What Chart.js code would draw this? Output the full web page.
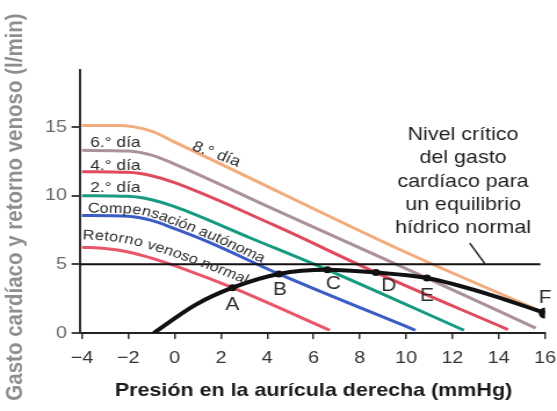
<!DOCTYPE html>
<html lang="es">
<head>
<meta charset="utf-8">
<title>Gasto cardíaco y retorno venoso</title>
<script src="https://cdn.jsdelivr.net/npm/chart.js@4.4.1/dist/chart.umd.min.js"></script>
<style>
  html, body { margin: 0; padding: 0; background: #fff; }
</style>
</head>
<body>
<!-- the scanned figure is a little wider than tall, so the canvas is stretched (inline style so Chart.js keeps it) -->
<canvas id="chart" width="480" height="411" style="display:block;width:557px;height:411px"></canvas>
<script>
// axis ticks
const xTicks = [-4, -2, 0, 2, 4, 6, 8, 10, 12, 14, 16];
const yTicks = [0, 5, 10, 15];

// venous return curves (presión en aurícula derecha -> l/min)
const normalX = [-4, -3, -2, -1, 0.5, 2.5, 6.7];
const normalY = [6.25, 6.15, 5.9, 5.45, 4.6, 3.3, 0.2];
const autoX = [-4, -2, -1, 0, 1.5, 4.5, 10.4];
const autoY = [8.55, 8.5, 8.2, 7.6, 6.6, 4.3, 0.2];
const dia2X = [-4, -2, -1, 0, 3.3, 6.6, 12.5];
const dia2Y = [10.0, 9.95, 9.7, 9.2, 6.9, 4.6, 0.2];
const dia4X = [-4, -2, -1, 0, 4.3, 8.7, 14.4];
const dia4Y = [11.75, 11.7, 11.45, 10.95, 7.85, 4.4, 0.25];
const dia6X = [-4, -2, -1, 0, 4.3, 10.9, 15.6];
const dia6Y = [13.3, 13.25, 12.95, 12.3, 9.0, 4.0, 0.35];
const dia8X = [-4, -2.5, -1, 0, 2, 9.7, 16];
const dia8Y = [15.1, 15.1, 14.7, 13.9, 12.3, 6.1, 1.45];

// cardiac output curve and the equilibrium points on it
const gastoX = [-0.9, 0.9, 2.5, 4.5, 6.6, 8.7, 10.9, 13.6, 16];
const gastoY = [0, 2.05, 3.3, 4.3, 4.6, 4.4, 4.0, 2.8, 1.45];
const puntosNombre = ['A', 'B', 'C', 'D', 'E', 'F'];
const puntosX = [2.5, 4.5, 6.6, 8.7, 10.9, 16];
const puntosY = [3.3, 4.3, 4.6, 4.4, 4.0, 1.45];

// critical level line and the pointer from its label
const criticoX = [-4.1, 15.8];
const criticoY = [5, 5];
const flechaX = [12.75, 13.4];
const flechaY = [6.55, 5.05];

const nivelTexto = ['Nivel crítico', 'del gasto', 'cardíaco para', 'un equilibrio', 'hídrico normal'];
const diaTexto = ['6.° día', '4.° día', '2.° día'];

const FONT = '"Liberation Sans", Arial, Helvetica, sans-serif';

function pts(xs, ys) {
    return xs.map((x, i) => ({ x: x, y: ys[i] }));
}

function curva(xs, ys, color, width, order) {
    return {
        data: pts(xs, ys),
        borderColor: color,
        borderWidth: width,
        pointRadius: 0,
        cubicInterpolationMode: 'monotone',
        fill: false,
        order: order
    };
}

// sample the drawn (bezier) line of a dataset into a polyline
function muestrear(meta) {
    const p = meta.data;
    const out = [];
    for (let i = 0; i < p.length - 1; i++) {
        const a = p[i], b = p[i + 1];
        const c1x = a.cp2x ?? a.x, c1y = a.cp2y ?? a.y;
        const c2x = b.cp1x ?? b.x, c2y = b.cp1y ?? b.y;
        for (let k = 0; k < 12; k++) {
            const t = k / 12, u = 1 - t;
            out.push({
                x: u * u * u * a.x + 3 * u * u * t * c1x + 3 * u * t * t * c2x + t * t * t * b.x,
                y: u * u * u * a.y + 3 * u * u * t * c1y + 3 * u * t * t * c2y + t * t * t * b.y
            });
        }
    }
    const last = p[p.length - 1];
    out.push({ x: last.x, y: last.y });
    return out;
}

// lay text along a polyline, lifted "up" by offset px
function textoEnCurva(ctx, text, line, start, offset) {
    const seg = [];
    let total = 0;
    for (let i = 0; i < line.length - 1; i++) {
        const dx = line[i + 1].x - line[i].x, dy = line[i + 1].y - line[i].y;
        const len = Math.hypot(dx, dy);
        if (len < 1e-6) continue;
        seg.push({ x: line[i].x, y: line[i].y, dx: dx / len, dy: dy / len, len: len, d0: total });
        total += len;
    }
    const pos = (d) => {
        let s = seg[seg.length - 1];
        for (const q of seg) { if (d <= q.d0 + q.len) { s = q; break; } }
        const t = d - s.d0;
        return { x: s.x + s.dx * t, y: s.y + s.dy * t };
    };
    let d = start;
    for (const ch of text) {
        const w = ctx.measureText(ch).width;
        const m = d + w / 2;
        const p = pos(m), p0 = pos(Math.max(0, m - 7)), p1 = pos(m + 7);
        const a = Math.atan2(p1.y - p0.y, p1.x - p0.x);
        ctx.save();
        ctx.translate(p.x + Math.sin(a) * offset, p.y - Math.cos(a) * offset);
        ctx.rotate(a);
        ctx.fillText(ch, -w / 2, 0);
        ctx.restore();
        d += w;
    }
}

const rotulos = {
    id: 'rotulos',
    afterDatasetsDraw(chart) {
        const ctx = chart.ctx;
        const x = chart.scales.x, y = chart.scales.y;
        ctx.save();
        ctx.fillStyle = '#2a2a2a';
        ctx.textBaseline = 'alphabetic';

        // day labels above their curves
        ctx.font = '15px ' + FONT;
        ctx.textAlign = 'left';
        const diaY = [13.55, 11.87, 10.3];
        diaTexto.forEach((t, i) => ctx.fillText(t, x.getPixelForValue(-3.65), y.getPixelForValue(diaY[i])));

        ctx.save();
        ctx.translate(x.getPixelForValue(0.72), y.getPixelForValue(13.35));
        ctx.rotate(23 * Math.PI / 180);
        ctx.fillText('8.° día', 0, 0);
        ctx.restore();

        // curved labels along the two lowest curves
        ctx.font = '14px ' + FONT;
        textoEnCurva(ctx, 'Compensación autónoma', muestrear(chart.getDatasetMeta(3)), 5, 3);
        textoEnCurva(ctx, 'Retorno venoso normal', muestrear(chart.getDatasetMeta(2)), 0, 8);

        // equilibrium point letters
        ctx.font = '18px ' + FONT;
        ctx.textAlign = 'center';
        ctx.textBaseline = 'middle';
        const dx = [0, 1, 5, 11, 0, 0];
        const dy = [17, 16, 14, 13, 18, -15];
        puntosNombre.forEach((n, i) => {
            ctx.fillText(n, x.getPixelForValue(puntosX[i]) + dx[i], y.getPixelForValue(puntosY[i]) + dy[i]);
        });

        // critical level label
        ctx.textBaseline = 'alphabetic';
        ctx.font = '18.5px ' + FONT;
        ctx.fillStyle = '#1e1e1e';
        nivelTexto.forEach((t, i) => ctx.fillText(t, x.getPixelForValue(12.46), y.getPixelForValue(14.06) + i * 23.3));

        // axis titles
        ctx.font = 'bold 18.5px ' + FONT;
        ctx.fillStyle = '#1a1a1a';
        ctx.fillText('Presión en la aurícula derecha (mmHg)', x.getPixelForValue(6.0), 396);

        ctx.save();
        ctx.translate(19, 207);
        ctx.rotate(-Math.PI / 2);
        ctx.font = 'bold 20.5px ' + FONT;
        ctx.fillStyle = '#8e8e8e';
        ctx.fillText('Gasto cardíaco y retorno venoso (l/min)', 0, 0);
        ctx.restore();

        ctx.restore();
    }
};

const chart = new Chart(document.getElementById('chart'), {
    type: 'line',
    data: {
        datasets: [
            // 0: cardiac output curve (on top)
            curva(gastoX, gastoY, '#111', 4, 0),
            // 1: critical level
            { data: pts(criticoX, criticoY), borderColor: '#111', borderWidth: 2, pointRadius: 0, order: 1 },
            curva(normalX, normalY, '#e9566a', 3, 7),
            curva(autoX, autoY, '#3a5cc4', 3, 6),
            curva(dia2X, dia2Y, '#169a80', 3, 5),
            curva(dia4X, dia4Y, '#e04a5e', 3, 4),
            curva(dia6X, dia6Y, '#ab9299', 3, 3),
            curva(dia8X, dia8Y, '#f2ab7c', 3, 2),
            // pointer from the label
            { data: pts(flechaX, flechaY), borderColor: '#222', borderWidth: 1.5, pointRadius: 0, order: 1 },
            // equilibrium points
            {
                data: pts(puntosX, puntosY),
                showLine: false,
                pointRadius: [3.5, 3.5, 3.5, 3.5, 3.5, 5.5],
                pointBackgroundColor: '#111',
                pointBorderWidth: 0,
                order: -1
            }
        ]
    },
    options: {
        responsive: false,
        devicePixelRatio: 1,
        animation: false,
        events: [],
        layout: { padding: { top: 70, right: 10.34, left: 0, bottom: 0 } },
        plugins: { legend: { display: false }, tooltip: { enabled: false } },
        scales: {
            x: {
                type: 'linear',
                min: -4.1,
                max: 16,
                afterBuildTicks: (s) => { s.ticks = xTicks.map(v => ({ value: v })); },
                afterFit: (s) => { s.height = 78; s.paddingLeft = 0; s.paddingRight = 0; },
                grid: { drawOnChartArea: false, drawTicks: true, tickLength: 6, color: '#333', lineWidth: 1.5 },
                border: { display: true, color: '#222', width: 2 },
                ticks: {
                    color: '#333',
                    padding: 9,
                    maxRotation: 0,
                    font: { family: FONT, size: 17 },
                    callback: (v) => (v < 0 ? '\u2212' + Math.abs(v) : String(v))
                }
            },
            y: {
                type: 'linear',
                min: 0,
                max: 19.15,
                afterBuildTicks: (s) => { s.ticks = yTicks.map(v => ({ value: v })); },
                afterFit: (s) => { s.width = 68.66; s.paddingTop = 0; s.paddingBottom = 0; },
                grid: { drawOnChartArea: false, drawTicks: true, tickLength: 7, color: '#444', lineWidth: 2 },
                border: { display: true, color: '#333', width: 2 },
                ticks: {
                    color: '#6a6a6a',
                    padding: 4,
                    font: { family: FONT, size: 17 }
                }
            }
        }
    },
    plugins: [rotulos]
});
</script>
</body>
</html>
